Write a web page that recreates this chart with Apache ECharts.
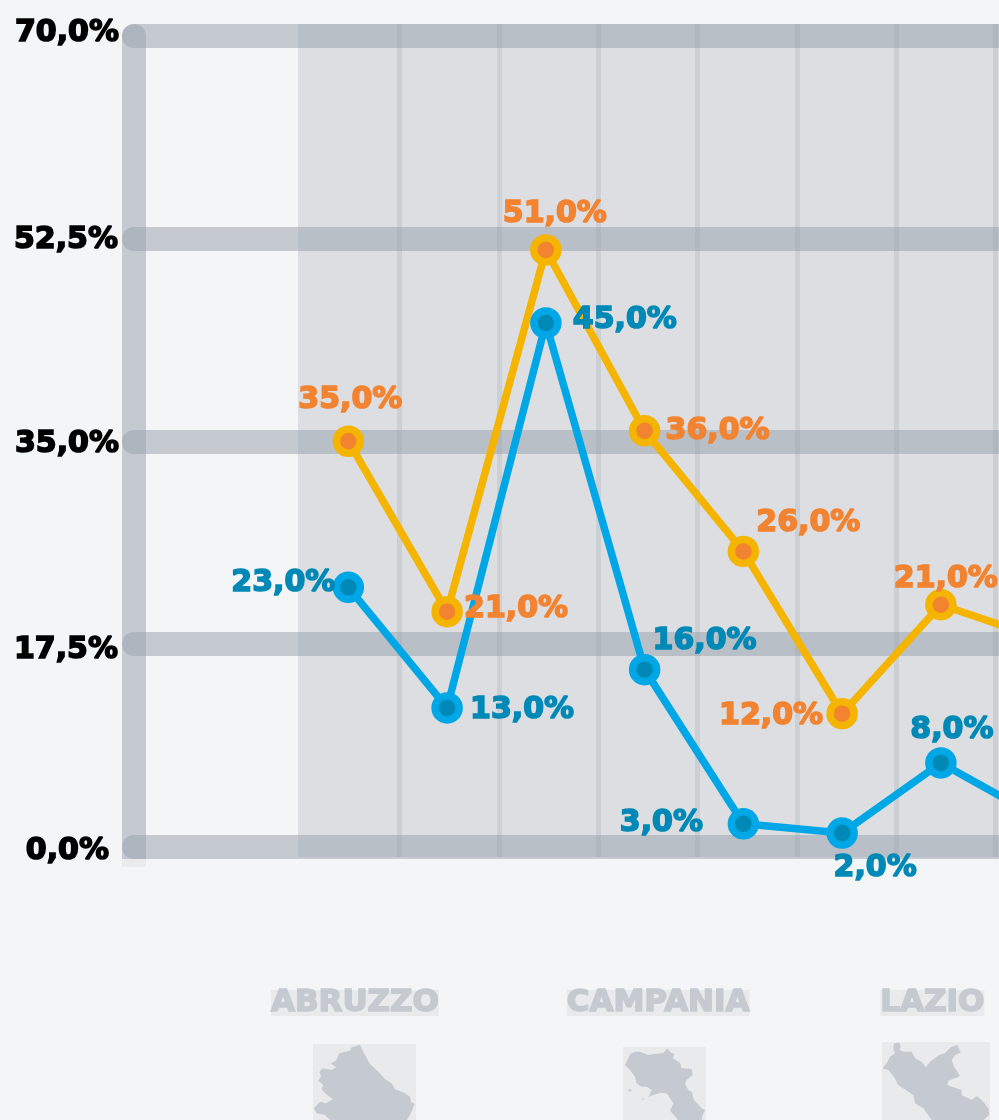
<!DOCTYPE html>
<html>
<head>
<meta charset="utf-8">
<title>Regioni</title>
<script src="https://cdn.jsdelivr.net/npm/echarts@6/dist/echarts.min.js"></script>
<style>
  html, body { margin: 0; padding: 0; background: #f4f5f7; overflow: hidden; }
  #chart { width: 999px; height: 1120px; }
</style>
</head>
<body>
<div id="chart"></div>
<script>
const categories = ['ABRUZZO', 'BASILICATA', 'CALABRIA', 'CAMPANIA', 'EMILIA-ROMAGNA', 'FRIULI', 'LAZIO', 'LIGURIA']
const yTickLabels = ['0,0%', '17,5%', '35,0%', '52,5%', '70,0%']

// the markers in the picture do not sit exactly where the printed numbers say,
// so plotted heights are read from the markers and the printed text is kept apart
const orangeValues = [35, 20.3, 51.5, 35.9, 25.5, 11.5, 20.9, 18]
const orangeLabels = ['35,0%', '21,0%', '51,0%', '36,0%', '26,0%', '12,0%', '21,0%']
const blueValues = [22.4, 12, 45.2, 15.3, 2, 1.2, 7.25, 2.5]
const blueLabels = ['23,0%', '13,0%', '45,0%', '16,0%', '3,0%', '2,0%', '8,0%']

// label offset from its marker
const orangeOffsets = [[2, -41], [69, -2], [9, -36], [73, 0], [65, -28], [-71, 3], [5, -26]]
const blueOffsets = [[-65, -4], [75, 2], [79, -3], [60, -28], [-82, -1], [33, 35], [11, -33]]

const FONT = '"DejaVu Sans"'
const BAR = 'rgba(150,160,172,0.5)'

const abruzzoShape = [[150,15],[165,45],[180,72],[205,95],[225,118],[245,130],[255,148],[285,160],[300,170],[303,185],[314,192],[300,225],[290,240],[60,240],[45,225],[20,220],[12,205],[30,185],[48,190],[68,178],[45,160],[35,148],[40,135],[25,122],[33,108],[28,95],[38,85],[65,90],[78,82],[62,70],[78,62],[88,40],[105,35],[120,32],[125,22]]
const campaniaShape = [[143,25],[150,35],[163,42],[158,55],[180,68],[185,85],[215,87],[218,105],[200,120],[195,132],[205,150],[215,155],[222,180],[245,205],[255,210],[248,225],[245,240],[175,240],[150,212],[160,190],[140,160],[120,158],[100,165],[85,172],[95,150],[80,140],[65,140],[50,130],[45,110],[30,90],[15,75],[25,55],[30,42],[45,35],[60,35],[85,45],[105,42],[130,38]]
const ischiaShape = [[22,150],[30,147],[37,152],[30,155]]
const capriShape = [[65,175],[73,175],[70,180]]
const lazioShape = [[42,10],[58,8],[62,20],[58,30],[72,35],[95,35],[105,55],[125,65],[138,82],[150,65],[178,45],[195,40],[212,22],[232,15],[242,38],[225,45],[215,60],[222,80],[240,108],[225,115],[205,122],[202,135],[215,140],[245,150],[245,165],[275,180],[290,168],[305,180],[325,205],[328,225],[310,240],[155,240],[130,205],[105,190],[100,165],[55,135],[42,110],[25,90],[8,85],[20,70],[30,50],[45,40],[40,25]]

const outline = (shape, ox, oy) => ({
  type: 'polygon',
  shape: { points: shape.map((p) => [ox + p[0] / 3, oy + p[1] / 3]) },
  style: { fill: '#c5cad1' }
})

const mapBox = (x, y, w, h) => ({ type: 'rect', shape: { x, y, width: w, height: h }, style: { fill: '#e8eaec' } })

const buildData = (values, labels, offsets, color) => values.map((v, i) => ({
  value: v,
  label: labels[i] ? {
    show: true,
    position: 'inside',
    offset: offsets[i],
    formatter: labels[i],
    color,
    fontFamily: FONT,
    fontWeight: 'bold',
    fontSize: 30,
    textBorderColor: color,
    textBorderWidth: 1.6
  } : { show: false }
}))

const buildSeries = (name, values, labels, offsets, line, inner, text) => ({
  name,
  type: 'line',
  xAxisIndex: 2,
  yAxisIndex: 2,
  data: buildData(values, labels, offsets, text),
  symbol: 'circle',
  symbolSize: 24,
  showAllSymbol: true,
  lineStyle: { color: line, width: 7.5 },
  itemStyle: { color: inner, borderColor: line, borderWidth: 7.5 },
  emphasis: { disabled: true }
})

// tick label style, the padding nudges each one to where the reference prints it
const tickStyle = (padding) => ({
  color: '#000',
  fontFamily: FONT,
  fontWeight: 'bold',
  fontSize: 30,
  textBorderColor: '#000',
  textBorderWidth: 1.6,
  padding
})

const chart = echarts.init(document.getElementById('chart'))
chart.setOption({
  backgroundColor: '#f4f5f7',
  animation: false,
  graphic: [
    { type: 'rect', shape: { x: 122, y: 24, width: 24, height: 835, r: [12, 12, 0, 0] }, style: { fill: BAR } },
    { type: 'rect', shape: { x: 122, y: 859, width: 24, height: 8 }, style: { fill: '#e9ebed' } },
    { type: 'rect', shape: { x: 298, y: 24, width: 701, height: 833 }, style: { fill: 'rgba(164,168,174,0.3)' } },
    mapBox(313, 1044, 103, 76),
    outline(abruzzoShape, 310, 1040),
    mapBox(623, 1047, 83, 73),
    outline(campaniaShape, 620, 1040),
    outline(ischiaShape, 620, 1040),
    outline(capriShape, 620, 1040),
    mapBox(882, 1042, 108, 78),
    outline(lazioShape, 880, 1040)
  ],
  grid: [
    { left: 134, top: 35.5, width: 1200, height: 811.5, outerBoundsMode: 'none' },
    { left: 300, top: 24, width: 795, height: 833, outerBoundsMode: 'none' },
    { left: 299, top: 35.5, width: 790, height: 811.5, outerBoundsMode: 'none' }
  ],
  xAxis: [
    { gridIndex: 0, type: 'value', show: false },
    {
      gridIndex: 1,
      type: 'category',
      data: categories,
      axisLine: { show: false },
      axisTick: { show: false },
      axisLabel: { show: false },
      splitLine: {
        show: true,
        interval: 0,
        showMinLine: false,
        lineStyle: { color: 'rgba(150,156,166,0.22)', width: 5 }
      }
    },
    {
      gridIndex: 2,
      type: 'category',
      data: categories,
      axisLine: { show: false },
      axisTick: { show: false },
      splitLine: { show: false },
      axisLabel: {
        interval: 2,
        margin: 143,
        formatter: (name) => {
          if (name === 'ABRUZZO') return '{s1| }{a|' + name + '}'
          if (name === 'CAMPANIA') return '{s2| }{a|' + name + '}'
          return '{a|' + name + '}{s3| }'
        },
        rich: {
          a: {
            color: '#c5cad1',
            backgroundColor: '#e8eaec',
            fontFamily: FONT,
            fontWeight: 'bold',
            fontSize: 31,
            height: 26,
            lineHeight: 26,
            textBorderColor: '#c5cad1',
            textBorderWidth: 1.6
          },
          s1: { width: 13 },
          s2: { width: 27 },
          s3: { width: 17 }
        }
      }
    }
  ],
  yAxis: [
    {
      gridIndex: 0,
      type: 'value',
      min: 0,
      max: 70,
      interval: 17.5,
      axisLine: { show: false },
      axisTick: { show: false },
      splitLine: { show: true, lineStyle: { color: BAR, width: 24, cap: 'round' } },
      axisLabel: {
        margin: 15,
        formatter: (value) => {
          const i = Math.round(value / 17.5)
          return '{t' + i + '|' + yTickLabels[i] + '}'
        },
        rich: {
          t0: tickStyle([8, 10, 0, 0]),
          t1: tickStyle([12, 1, 0, 0]),
          t2: tickStyle([6, 0, 0, 0]),
          t3: tickStyle([4, 1, 0, 0]),
          t4: tickStyle([0, 0, 4, 0])
        }
      }
    },
    { gridIndex: 1, type: 'value', show: false },
    { gridIndex: 2, type: 'value', show: false, min: 0, max: 70, interval: 17.5 }
  ],
  series: [
    buildSeries('Arancio', orangeValues, orangeLabels, orangeOffsets, '#f4b400', '#f28330', '#f28330'),
    buildSeries('Blu', blueValues, blueLabels, blueOffsets, '#00a7e6', '#0089b6', '#0089b6')
  ]
})
</script>
</body>
</html>
